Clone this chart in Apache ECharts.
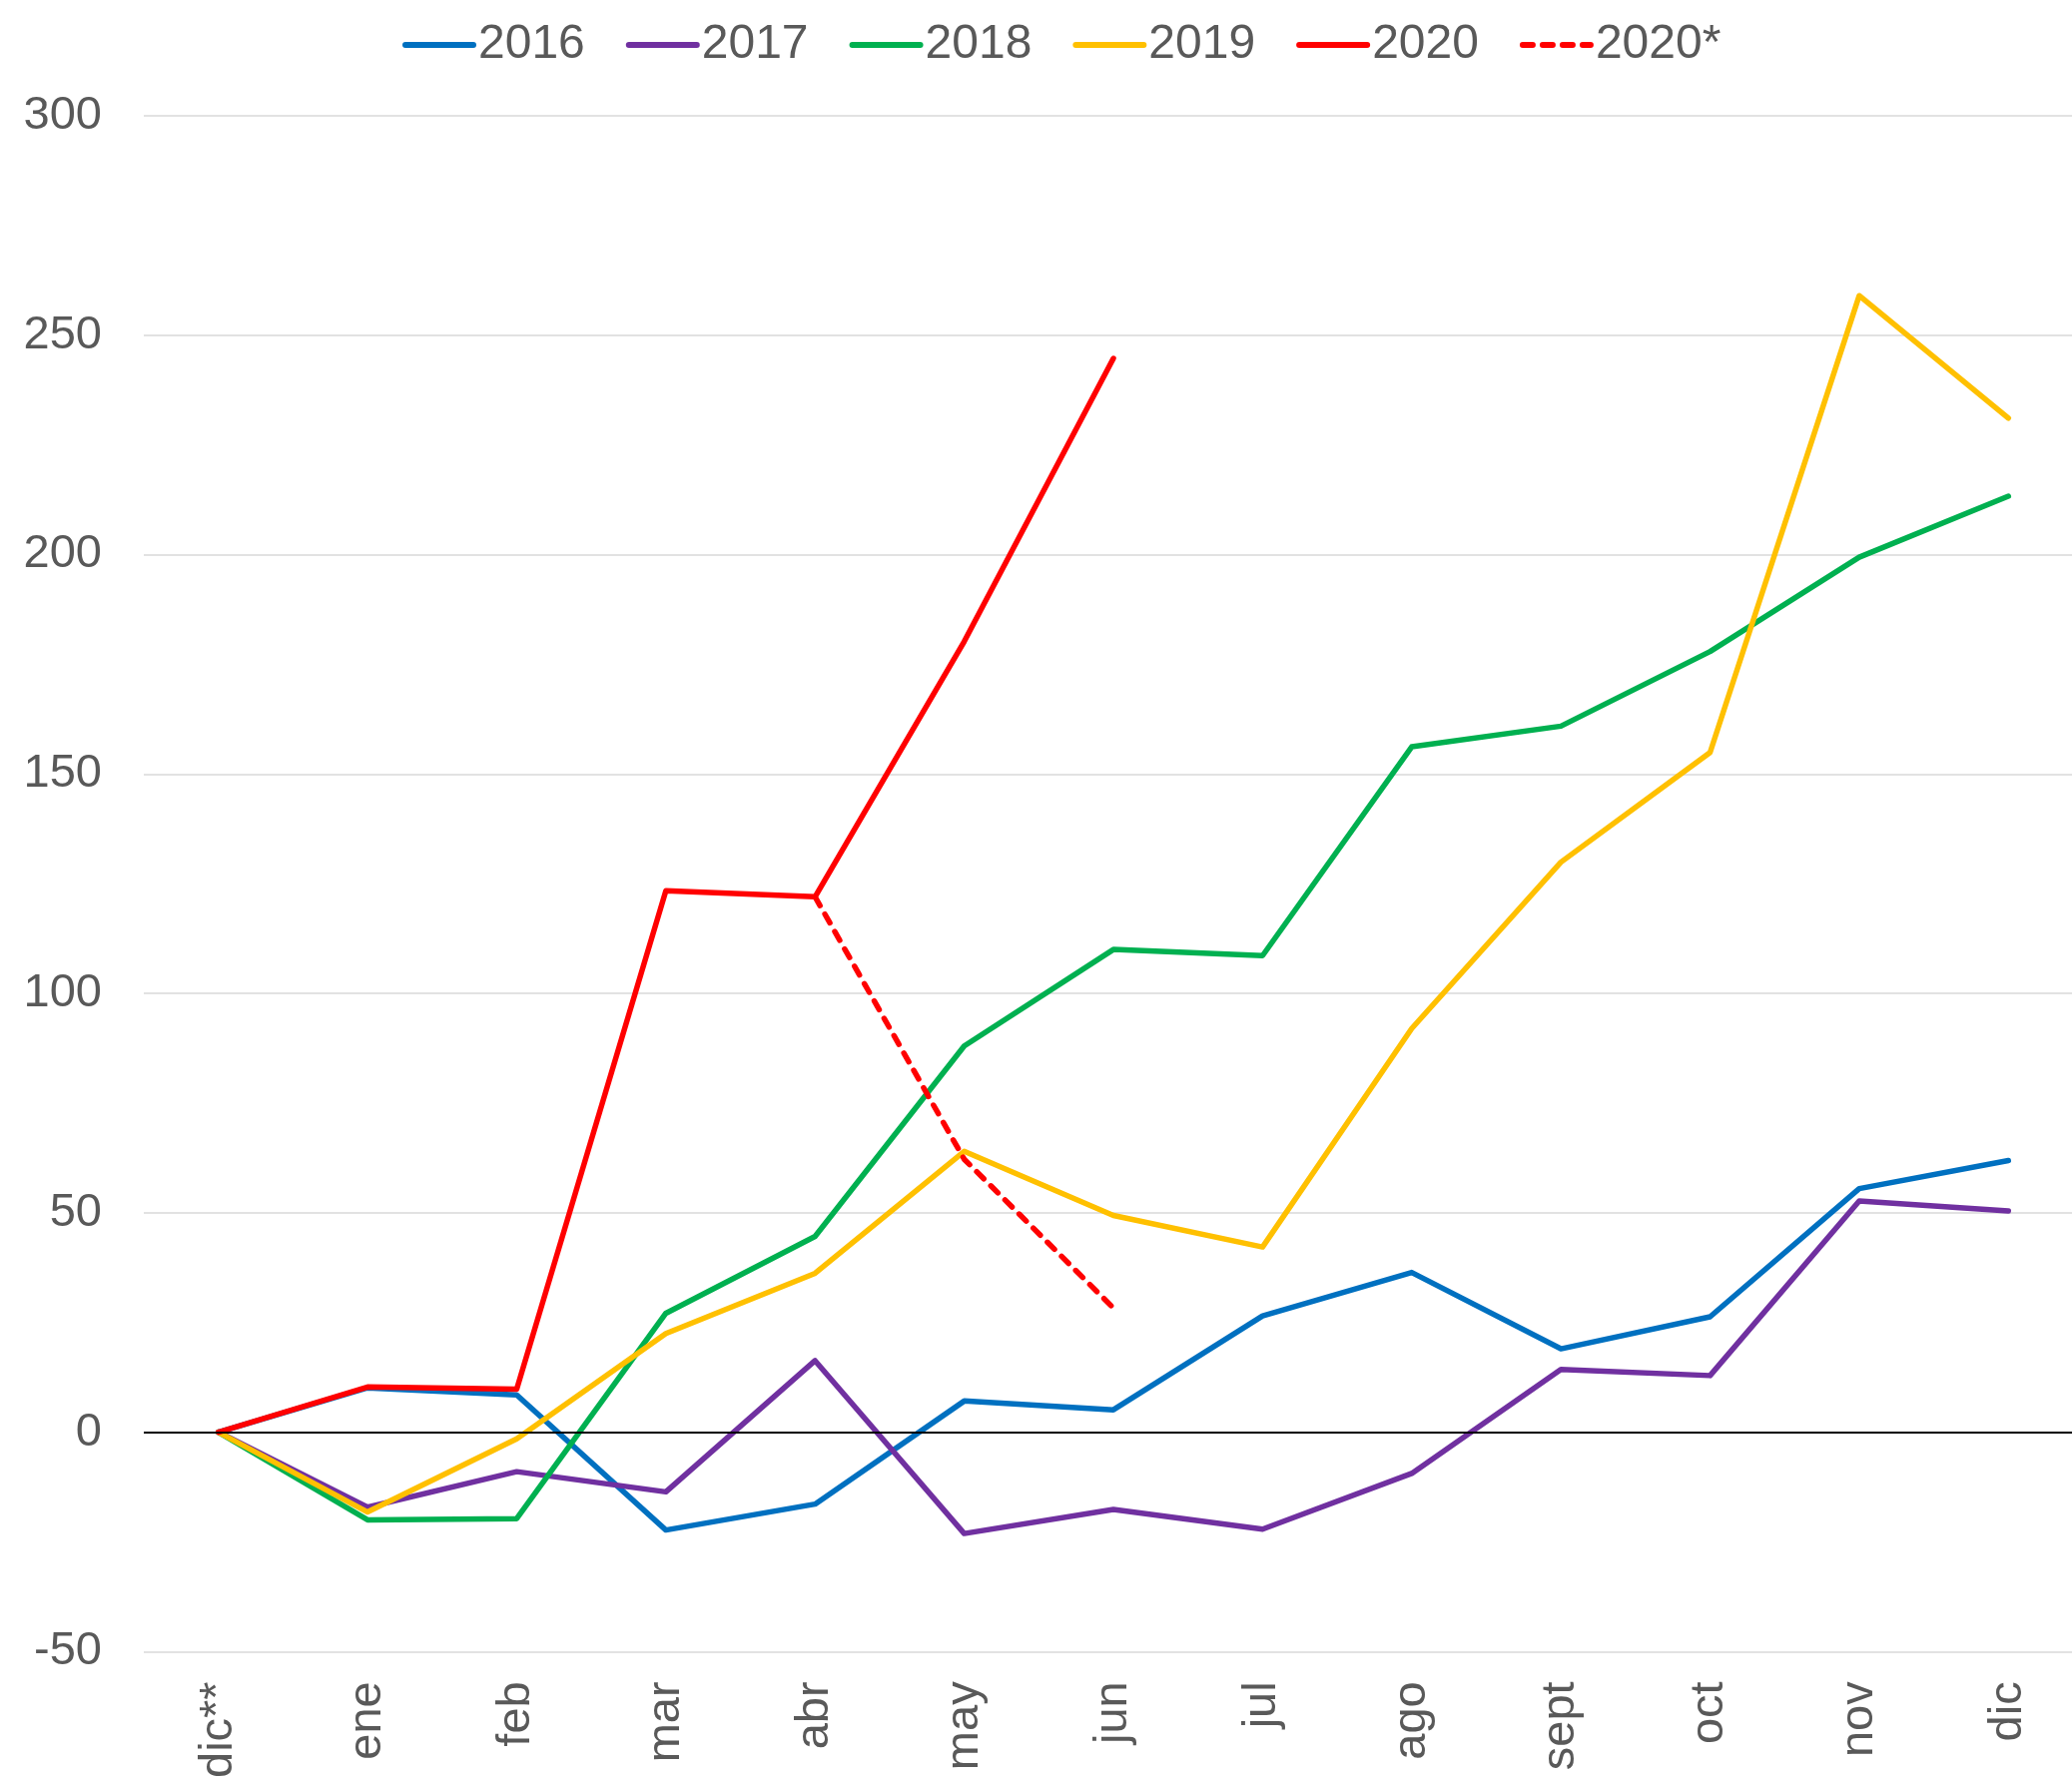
<!DOCTYPE html>
<html>
<head>
<meta charset="utf-8">
<script src="https://cdn.jsdelivr.net/npm/echarts@6/dist/echarts.min.js"></script>
<style>
    html, body {
        margin: 0;
        width: 100%;
        height: 100%;
        background: #fff;
        overflow: hidden;
    }
    /* un poco más ancho que la ventana: el último mes queda recortado como en el original */
    #main {
        width: 2090px;
        height: 1784px;
    }
</style>
</head>
<body>
<div id="main"></div>
<script>
    // categorías (meses)
    var categories = ['dic**', 'ene', 'feb', 'mar', 'abr', 'may', 'jun', 'jul', 'ago', 'sept', 'oct', 'nov', 'dic'];

    // valores por año
    var s2016 = [0, 10.1, 8.5, -22.3, -16.4, 7.1, 5.1, 26.5, 36.4, 19.0, 26.3, 55.5, 61.9];
    var s2017 = [0, -17.1, -9.0, -13.6, 16.3, -23.1, -17.6, -22.1, -9.4, 14.3, 12.9, 52.7, 50.4];
    var s2018 = [0, -20.0, -19.7, 27.1, 44.6, 88.0, 110.0, 108.6, 156.2, 160.9, 177.9, 199.4, 213.3];
    var s2019 = [0, -18.2, -1.5, 22.5, 36.2, 64.0, 49.4, 42.2, 92.0, 129.9, 154.9, 259.0, 231.1];
    var s2020 = [0, 10.3, 9.8, 123.4, 122.0, 180.2, 244.7];
    var s2020e = [null, null, null, null, 122.0, 62.2, 28.3];

    var txt = '#595959';
    var font = 'Liberation Sans, Arial, sans-serif';

    function line(name, data, color, dashed) {
        return {
            name: name,
            type: 'line',
            data: data,
            symbol: 'none',
            connectNulls: false,
            animation: false,
            lineStyle: {
                color: color,
                width: 5.5,
                type: dashed ? [10, 10] : 'solid',
                cap: 'round',
                join: 'round'
            },
            itemStyle: { color: color }
        };
    }

    var series = [
        line('2016', s2016, '#0070C0'),
        line('2017', s2017, '#7030A0'),
        line('2018', s2018, '#00B050'),
        line('2019', s2019, '#FFC000'),
        line('2020', s2020, '#FF0000'),
        line('2020*', s2020e, '#FF0000', true)
    ];
    // línea del cero
    series[0].markLine = {
        silent: true,
        symbol: 'none',
        label: { show: false },
        lineStyle: { color: '#000', width: 2, type: 'solid' },
        data: [{ yAxis: 0 }]
    };

    var myChart = echarts.init(document.getElementById('main'));
    myChart.setOption({
        animation: false,
        textStyle: { fontFamily: font },
        legend: {
            top: 16,
            left: 398,
            itemWidth: 68,
            itemHeight: 46,
            itemGap: 41,
            itemStyle: { opacity: 0 },
            lineStyle: { width: 6 },
            textStyle: { fontSize: 48, color: txt, fontFamily: font },
            data: ['2016', '2017', '2018', '2019', '2020', '2020*']
        },
        grid: {
            left: 144,
            right: 4,
            top: 116,
            bottom: 124,
            containLabel: false
        },
        xAxis: {
            type: 'category',
            boundaryGap: true,
            data: categories,
            axisLine: { show: false },
            axisTick: { show: false },
            axisLabel: {
                rotate: 90,
                margin: 30,
                fontSize: 47,
                color: txt,
                fontFamily: font,
                interval: 0
            }
        },
        yAxis: {
            type: 'value',
            min: -50,
            max: 300,
            interval: 50,
            axisLine: { show: false },
            axisTick: { show: false },
            axisLabel: { margin: 42, fontSize: 47, color: txt, fontFamily: font },
            splitLine: { lineStyle: { color: '#d9d9d9', width: 1.5 } }
        },
        series: series
    });
</script>
</body>
</html>
